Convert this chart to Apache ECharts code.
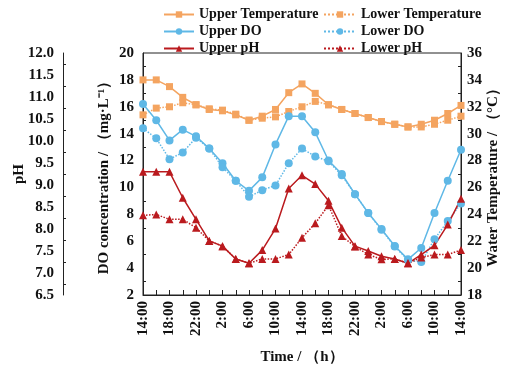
<!DOCTYPE html>
<html>
<head>
<meta charset="utf-8">
<script src="https://cdn.jsdelivr.net/npm/echarts@6/dist/echarts.min.js"></script>
<style>
  html, body { margin: 0; padding: 0; background: #fff; }
  #chart { width: 505px; height: 365px; }
</style>
</head>
<body>
<div id="chart"></div>
<script>
// time of day, every 2 h over two days
const times = ['14:00', '16:00', '18:00', '20:00', '22:00', '0:00', '2:00', '4:00', '6:00', '8:00', '10:00', '12:00',
    '14:00', '16:00', '18:00', '20:00', '22:00', '0:00', '2:00', '4:00', '6:00', '8:00', '10:00', '12:00', '14:00'];

const upperTemp = [34.0, 34.0, 33.5, 32.7, 32.15, 31.8, 31.7, 31.4, 31.0, 31.3, 31.8, 33.05, 33.7,
    33.0, 32.15, 31.8, 31.5, 31.2, 30.9, 30.7, 30.5, 30.7, 31.0, 31.5, 32.1];
const lowerTemp = [31.4, 31.9, 32.0, 32.3, 32.15, 31.85, 31.75, 31.45, 31.0, 31.15, 31.25, 31.65, 32.0,
    32.4, 32.15, 31.8, 31.5, 31.2, 30.9, 30.7, 30.5, 30.5, 30.7, 31.0, 31.3];

const upperDO = [16.2, 15.0, 13.5, 14.3, 13.8, 12.9, 11.8, 10.5, 9.75, 10.75, 13.2, 15.3, 15.3,
    14.1, 12.0, 11.0, 9.5, 8.1, 6.9, 5.65, 4.65, 5.5, 8.1, 10.5, 12.8];
const lowerDO = [14.4, 13.65, 12.1, 12.6, 13.7, 12.9, 11.5, 10.5, 9.3, 9.8, 10.15, 11.8, 12.9,
    12.3, 11.95, 10.9, 9.5, 8.1, 6.85, 5.6, 4.6, 4.45, 6.15, 7.5, 8.8];

const upperPH = [9.3, 9.3, 9.3, 8.71, 8.22, 7.73, 7.61, 7.32, 7.22, 7.52, 8.01, 8.92, 9.22,
    9.02, 8.64, 8.03, 7.61, 7.5, 7.38, 7.32, 7.22, 7.42, 7.63, 8.1, 8.69];
const lowerPH = [8.31, 8.33, 8.22, 8.22, 8.03, 7.73, 7.61, 7.32, 7.22, 7.32, 7.32, 7.42, 7.8,
    8.13, 8.54, 7.84, 7.6, 7.42, 7.31, 7.32, 7.22, 7.35, 7.42, 7.42, 7.52];

const orange = '#F4A460';
const blue = '#5FB8E6';
const red = '#BA1A1E';
const font = 'Liberation Serif';

const labelStyle = {fontFamily: font, fontWeight: 'bold', fontSize: 15, color: '#111'};
const nameStyle = {fontFamily: font, fontWeight: 'bold', fontSize: 15, color: '#111'};
const lineAxis = {show: true, lineStyle: {color: '#222', width: 1}};

function makeSeries(name, data, axis, color, symbol, size, dotted) {
    return {
        name: name,
        type: 'line',
        yAxisIndex: axis,
        data: data,
        symbol: symbol,
        symbolSize: size,
        color: color,
        itemStyle: {color: color},
        lineStyle: {color: color, width: 1.5, type: dotted ? 'dotted' : 'solid'}
    };
}

const legendText = {fontFamily: font, fontWeight: 'bold', fontSize: 14, color: '#111', lineHeight: 15};

const option = {
    animation: false,
    backgroundColor: '#fff',
    legend: [
        {
            data: ['Upper Temperature', 'Upper DO', 'Upper pH'],
            orient: 'vertical', left: 158, top: 2, itemGap: 2,
            itemWidth: 30, itemHeight: 8, textStyle: legendText
        },
        {
            data: ['Lower Temperature', 'Lower DO', 'Lower pH'],
            orient: 'vertical', left: 318, top: 2, itemGap: 2,
            itemWidth: 32, itemHeight: 8, textStyle: legendText
        }
    ],
    grid: {
        left: 143, right: 44, top: 53, bottom: 70,
        outerBoundsMode: 'none',
        show: true, borderColor: '#222', borderWidth: 1
    },
    xAxis: {
        type: 'category',
        data: times,
        boundaryGap: false,
        name: 'Time / （h）',
        nameLocation: 'middle',
        nameGap: 55,
        nameTextStyle: nameStyle,
        axisLine: lineAxis,
        axisTick: {inside: true, length: 5, interval: 0, lineStyle: {color: '#222'}},
        axisLabel: Object.assign({interval: 1, rotate: 90, margin: 6}, labelStyle),
        splitLine: {show: false}
    },
    yAxis: [
        {
            type: 'value',
            position: 'left',
            offset: 80,
            min: 6.5, max: 12, interval: 0.5,
            name: 'pH',
            nameLocation: 'middle',
            nameGap: 36,
            nameMoveOverlap: false,
            nameTextStyle: nameStyle,
            axisLine: lineAxis,
            axisTick: {inside: true, length: 5, lineStyle: {color: '#222'}},
            minorTick: {show: true, splitNumber: 2, length: 3, lineStyle: {color: '#222'}},
            axisLabel: Object.assign({margin: 9, formatter: v => v.toFixed(1)}, labelStyle),
            splitLine: {show: false}
        },
        {
            type: 'value',
            position: 'left',
            min: 2, max: 20, interval: 2,
            name: 'DO concentration / （mg·L⁻¹）',
            nameLocation: 'middle',
            nameGap: 31,
            nameMoveOverlap: false,
            nameTextStyle: nameStyle,
            axisLine: lineAxis,
            axisTick: {inside: true, length: 5, lineStyle: {color: '#222'}},
            minorTick: {show: true, splitNumber: 2, length: 3, lineStyle: {color: '#222'}},
            axisLabel: Object.assign({margin: 9}, labelStyle),
            splitLine: {show: false}
        },
        {
            type: 'value',
            position: 'right',
            min: 18, max: 36, interval: 2,
            name: 'Water Temperature / （°C）',
            nameLocation: 'middle',
            nameGap: 25,
            nameMoveOverlap: false,
            nameTextStyle: nameStyle,
            axisLine: lineAxis,
            axisTick: {inside: true, length: 5, lineStyle: {color: '#222'}},
            minorTick: {show: true, splitNumber: 2, length: 3, lineStyle: {color: '#222'}},
            axisLabel: Object.assign({margin: 6}, labelStyle),
            splitLine: {show: false}
        }
    ],
    series: [
        makeSeries('Upper Temperature', upperTemp, 2, orange, 'rect', 7, false),
        makeSeries('Lower Temperature', lowerTemp, 2, orange, 'rect', 7, true),
        makeSeries('Upper DO', upperDO, 1, blue, 'circle', 8, false),
        makeSeries('Lower DO', lowerDO, 1, blue, 'circle', 8, true),
        makeSeries('Upper pH', upperPH, 0, red, 'triangle', 8, false),
        makeSeries('Lower pH', lowerPH, 0, red, 'triangle', 8, true)
    ]
};

const chart = echarts.init(document.getElementById('chart'), null, {renderer: 'canvas'});
chart.setOption(option);
window.addEventListener('resize', function () {
    chart.resize();
});
</script>
</body>
</html>
